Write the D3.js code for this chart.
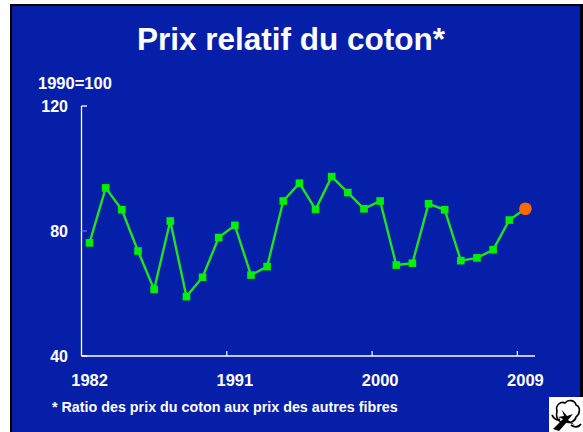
<!DOCTYPE html>
<html>
<head>
<meta charset="utf-8">
<script src="https://cdn.jsdelivr.net/npm/d3@7"></script>
<style>
  body { margin: 0; background: #ffffff; }
  text { font-family: "Liberation Sans", Arial, sans-serif; font-weight: bold; fill: #ffffff; }
</style>
</head>
<body>
<div id="vis1"></div>
<script>
const width = 583;
const height = 432;

// data: relative cotton price, 1990=100
const years = d3.range(1982, 2010);
const values = [76.2, 93.8, 86.8, 73.6, 61.3, 83.2, 59.0, 65.2, 77.9, 81.8,
    65.9, 68.6, 89.6, 95.3, 86.9, 97.4, 92.3, 87.1, 89.6, 69.1,
    69.7, 88.7, 86.8, 70.5, 71.4, 74.0, 83.5, 87.1];
const yTicks = [40, 80, 120];
const xLabels = [1982, 1991, 2000, 2009];
const xTicks = [1991, 2000, 2009];

//creating SVG
let svg = d3.select("#vis1")
    .append("svg")
    .attr("width", width)
    .attr("height", height);

//slide frame
svg.append("rect").attr("x", 10).attr("y", 4).attr("width", width - 10).attr("height", height - 4).attr("fill", "#000000");
svg.append("rect").attr("x", 12).attr("y", 6).attr("width", 568).attr("height", height - 6).attr("fill", "#061fa8");

//title
svg.append("text")
    .attr("x", 291)
    .attr("y", 49.5)
    .attr("text-anchor", "middle")
    .style("font-size", "31.5px")
    .text("Prix relatif du coton*");

svg.append("text")
    .attr("x", 38)
    .attr("y", 89)
    .style("font-size", "16.5px")
    .text("1990=100");

//creating scales
const xScale = d3.scaleBand()
    .domain(years)
    .range([81.5, 533.5])
    .padding(0);
const yScale = d3.scaleLinear()
    .domain([40, 120])
    .range([356, 106]);

//Y axis
svg.append("line")
    .attr("x1", 81.5).attr("x2", 81.5)
    .attr("y1", yScale(120)).attr("y2", yScale(40))
    .attr("stroke", "#ffffff").attr("stroke-width", 1.3);

svg.selectAll(".ytick")
    .data(yTicks)
    .enter()
    .append("line")
    .attr("class", "ytick")
    .attr("x1", 81.5).attr("x2", 87)
    .attr("y1", d => yScale(d)).attr("y2", d => yScale(d))
    .attr("stroke", d => d === 80 ? "#5d6fd0" : "#ffffff")
    .attr("stroke-width", 1.3);

svg.selectAll(".ylabel")
    .data(yTicks)
    .enter()
    .append("text")
    .attr("class", "ylabel")
    .attr("x", 68)
    .attr("y", d => yScale(d) + 5.5)
    .attr("text-anchor", "end")
    .style("font-size", "16px")
    .text(d => d);

//X axis
svg.append("line")
    .attr("x1", 81.5).attr("x2", 535)
    .attr("y1", yScale(40)).attr("y2", yScale(40))
    .attr("stroke", "#ffffff").attr("stroke-width", 1.3);

svg.selectAll(".xtick")
    .data(xTicks)
    .enter()
    .append("line")
    .attr("class", "xtick")
    .attr("x1", d => xScale(d)).attr("x2", d => xScale(d))
    .attr("y1", yScale(40)).attr("y2", yScale(40) - 5)
    .attr("stroke", "#ffffff").attr("stroke-width", 1.2);

svg.selectAll(".xlabel")
    .data(xLabels)
    .enter()
    .append("text")
    .attr("class", "xlabel")
    .attr("x", d => xScale(d) + xScale.bandwidth() / 2)
    .attr("y", 385.5)
    .attr("text-anchor", "middle")
    .style("font-size", "16.5px")
    .text(d => d);

//line
const cx = (d, i) => xScale(years[i]) + xScale.bandwidth() / 2;
svg.append("path")
    .datum(values)
    .attr("fill", "none")
    .attr("stroke", "#22e022")
    .attr("stroke-width", 2.4)
    .attr("d", d3.line().x(cx).y(d => yScale(d)));

//square markers (all but last year)
const last = values.length - 1;
svg.selectAll(".pt")
    .data(values.slice(0, last))
    .enter()
    .append("rect")
    .attr("class", "pt")
    .attr("x", (d, i) => cx(d, i) - 3.8)
    .attr("y", d => yScale(d) - 3.8)
    .attr("width", 7.6)
    .attr("height", 7.6)
    .attr("fill", "#00f000");

//last year highlighted
svg.append("circle")
    .attr("cx", cx(values[last], last))
    .attr("cy", yScale(values[last]))
    .attr("r", 6.3)
    .attr("fill", "#ff6a00");

//footnote
svg.append("text")
    .attr("x", 52)
    .attr("y", 412)
    .style("font-size", "14.3px")
    .text("* Ratio des prix du coton aux prix des autres fibres");

//cotton icon
let icon = svg.append("g").attr("transform", "translate(549,397)");
icon.append("rect").attr("width", 34).attr("height", 35).attr("fill", "#ffffff");
icon.append("path")
    .attr("d", "M8,14 C6,8 12,4 16,6 C19,2 26,3 27,8 C32,10 31,17 27,20 C26,25 20,27 16,24 C12,27 6,23 8,14 Z")
    .attr("fill", "none").attr("stroke", "#000000").attr("stroke-width", 1.6);
icon.append("path")
    .attr("d", "M4,32 L14,22 L9,20 L15,19 L13,13 L18,19 L24,17 L19,23 L26,28 L18,25 L10,34 Z")
    .attr("fill", "#000000");
icon.append("path")
    .attr("d", "M3,18 C5,22 8,24 11,22 M22,28 C26,31 30,30 32,27")
    .attr("fill", "none").attr("stroke", "#000000").attr("stroke-width", 1.8);
</script>
</body>
</html>
